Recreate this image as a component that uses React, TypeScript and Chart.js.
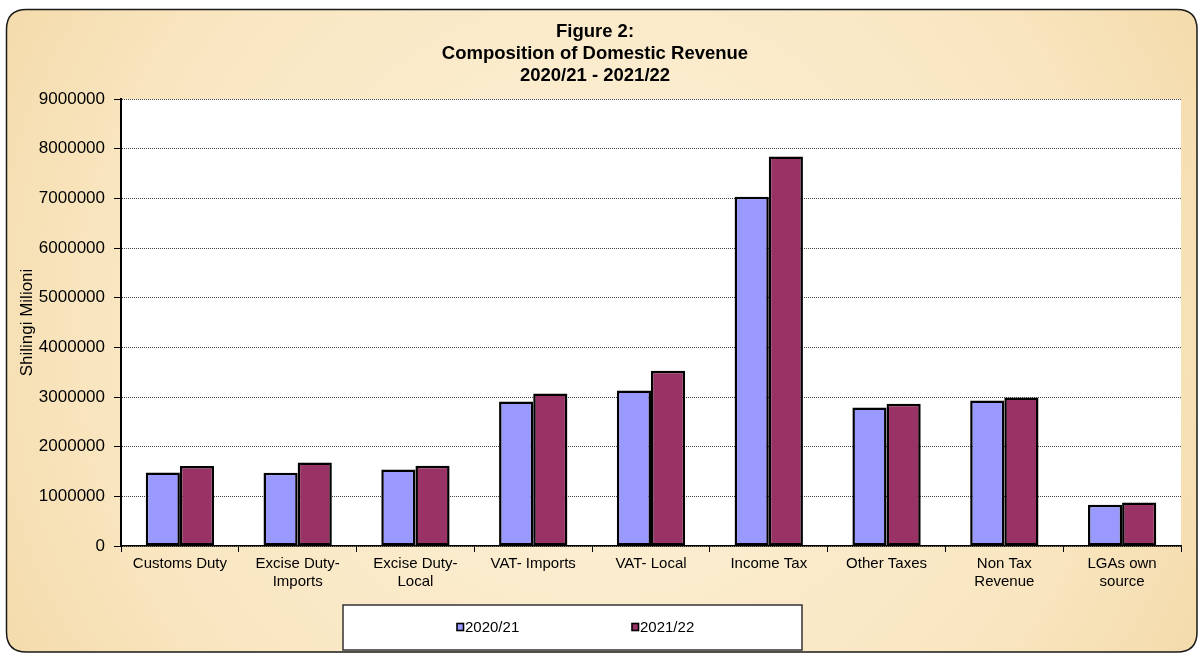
import React, { useEffect, useRef } from "react";
import { Chart, registerables } from "chart.js";

Chart.register(...registerables);

const W = 1203;
const H = 653;
const FONT = "'Liberation Sans', Arial, sans-serif";

const categories: (string | string[])[] = [
  "Customs Duty",
  ["Excise Duty-", "Imports"],
  ["Excise Duty-", "Local"],
  "VAT- Imports",
  "VAT- Local",
  "Income Tax",
  "Other Taxes",
  ["Non Tax", "Revenue"],
  ["LGAs own", "source"],
];

const series2020 = [1480000, 1475000, 1540000, 2910000, 3130000, 7030000, 2790000, 2930000, 830000];
const series2021 = [1610000, 1680000, 1615000, 3070000, 3530000, 7840000, 2865000, 2990000, 875000];

const seriesLabels = ["2020/21", "2021/22"];
const titleLines = ["Figure 2:", "Composition of Domestic Revenue", "2020/21 - 2021/22"];
const yTitle = "Shilingi Milioni";

const decorPlugin = {
  id: "decor",
  beforeDraw(chart: any) {
    const { ctx, chartArea } = chart;
    ctx.save();
    ctx.fillStyle = "#ffffff";
    ctx.fillRect(0, 0, W, H);
    const x0 = 6.5, y0 = 9.5, x1 = 1197, y1 = 652, r = 20;
    ctx.beginPath();
    ctx.moveTo(x0 + r, y0);
    ctx.lineTo(x1 - r, y0);
    ctx.quadraticCurveTo(x1, y0, x1, y0 + r);
    ctx.lineTo(x1, y1 - r);
    ctx.quadraticCurveTo(x1, y1, x1 - r, y1);
    ctx.lineTo(x0 + r, y1);
    ctx.quadraticCurveTo(x0, y1, x0, y1 - r);
    ctx.lineTo(x0, y0 + r);
    ctx.quadraticCurveTo(x0, y0, x0 + r, y0);
    ctx.closePath();
    const g = ctx.createRadialGradient(600, 330, 80, 600, 330, 760);
    g.addColorStop(0, "#FCF0D6");
    g.addColorStop(0.6, "#F9E6C1");
    g.addColorStop(1, "#F2D6A2");
    ctx.fillStyle = g;
    ctx.fill();
    ctx.lineWidth = 1.5;
    ctx.strokeStyle = "#1a1a1a";
    ctx.stroke();
    ctx.fillStyle = "#ffffff";
    ctx.fillRect(chartArea.left, chartArea.top, chartArea.right - chartArea.left, chartArea.bottom - chartArea.top);
    ctx.restore();
  },
  afterDraw(chart: any) {
    const { ctx } = chart;
    ctx.save();
    ctx.fillStyle = "#000";
    ctx.font = `bold 18.5px ${FONT}`;
    ctx.textAlign = "center";
    ctx.textBaseline = "middle";
    const ty = [32, 54, 76];
    titleLines.forEach((t, i) => ctx.fillText(t, 595, ty[i]));
    ctx.fillStyle = "#ffffff";
    ctx.fillRect(343, 605, 459, 45);
    ctx.lineWidth = 1.5;
    ctx.strokeStyle = "#333";
    ctx.strokeRect(343, 605, 459, 45);
    const ds = chart.data.datasets;
    const xs = [457, 632];
    ctx.font = `15px ${FONT}`;
    ctx.textAlign = "left";
    ctx.textBaseline = "middle";
    ds.forEach((d: any, i: number) => {
      ctx.fillStyle = d.backgroundColor;
      ctx.fillRect(xs[i], 623.5, 6.5, 7);
      ctx.lineWidth = 1.6;
      ctx.strokeStyle = "#000";
      ctx.strokeRect(xs[i], 623.5, 6.5, 7);
      ctx.fillStyle = "#000";
      ctx.fillText(d.label, xs[i] + 8, 627.5);
    });
    ctx.restore();
  },
};

export default function App() {
  const ref = useRef<HTMLCanvasElement | null>(null);
  useEffect(() => {
    if (!ref.current) return;
    const chart = new Chart(ref.current, {
      type: "bar",
      data: {
        labels: categories,
        datasets: [
          {
            label: seriesLabels[0],
            data: series2020,
            backgroundColor: "#9999FF",
            borderColor: "#000000",
            borderWidth: 2.5,
            borderSkipped: false,
          },
          {
            label: seriesLabels[1],
            data: series2021,
            backgroundColor: "#993366",
            borderColor: "#000000",
            borderWidth: 2.5,
            borderSkipped: false,
          },
        ],
      },
      options: {
        responsive: false,
        animation: false,
        events: [],
        layout: { padding: { left: 0, right: 22, top: 99, bottom: 47 } },
        datasets: { bar: { categoryPercentage: 0.58, barPercentage: 1.0 } },
        plugins: {
          legend: { display: false },
          title: { display: false },
          tooltip: { enabled: false },
        },
        scales: {
          x: {
            afterFit: (s: any) => {
              s.height = 60;
            },
            grid: {
              drawOnChartArea: false,
              drawTicks: true,
              tickLength: 6,
              tickColor: "#000",
              tickWidth: 1,
              offset: true,
            },
            border: { display: true, color: "#000", width: 1.5 },
            ticks: {
              color: "#000",
              font: { family: FONT, size: 15, lineHeight: 1.2 },
              padding: 3,
              maxRotation: 0,
              autoSkip: false,
            },
          },
          y: {
            min: 0,
            max: 9000000,
            afterFit: (s: any) => {
              s.width = 121;
            },
            grid: {
              color: "#444",
              lineWidth: 1,
              tickLength: 7,
              tickColor: "#000",
              tickWidth: 1,
            },
            border: { display: true, color: "#000", width: 2, dash: [1, 1] },
            ticks: {
              stepSize: 1000000,
              color: "#000",
              padding: 9,
              font: { family: FONT, size: 17 },
              callback: (v: any) => String(v),
            },
            title: {
              display: true,
              text: yTitle,
              color: "#000",
              font: { family: FONT, size: 17, lineHeight: 1.2 },
              padding: { top: 17, bottom: 0 },
            },
          },
        },
      } as any,
      plugins: [decorPlugin],
    });
    return () => chart.destroy();
  }, []);
  return (
    <div style={{ position: "absolute", left: 0, top: 0, width: W, height: H }}>
      <canvas ref={ref} width={W} height={H} style={{ display: "block", width: W, height: H }} />
    </div>
  );
}
